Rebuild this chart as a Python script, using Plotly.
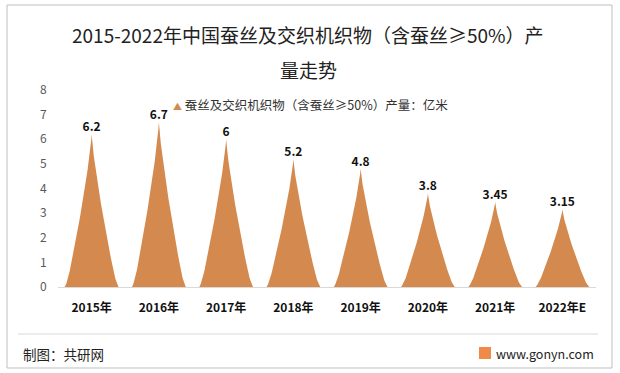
import numpy as np
import plotly.graph_objects as go

categories = ["2015年", "2016年", "2017年", "2018年", "2019年", "2020年", "2021年", "2022年E"]
values = [6.2, 6.7, 6, 5.2, 4.8, 3.8, 3.45, 3.15]
value_labels = ["6.2", "6.7", "6", "5.2", "4.8", "3.8", "3.45", "3.15"]
y_ticks = [0, 1, 2, 3, 4, 5, 6, 7, 8]
series_name = "蚕丝及交织机织物（含蚕丝≥50%）产量：亿米"
title_line1 = "2015-2022年中国蚕丝及交织机织物（含蚕丝≥50%）产"
title_line2 = "量走势"

COLOR = "#D48A4E"
FONT = "Noto Sans CJK SC"

# normalized peak profile: half-width fraction as a function of relative height
yy = np.linspace(0, 1, 80)
ww = (1 - yy) ** 1.25 * (1 - 0.07 * (1 - np.exp(-yy / 0.04)))
shape_x = np.concatenate([0.5 + 0.5 * ww, (0.5 - 0.5 * ww)[::-1]])
shape_y = np.concatenate([yy, yy[::-1]])

half_w = 0.40
xs, ys = [], []
for i, v in enumerate(values):
    xs += list(i - half_w + 2 * half_w * shape_x) + [None]
    ys += list(v * shape_y) + [None]

fig = go.Figure()
fig.add_trace(go.Scatter(
    x=xs, y=ys, mode="lines", fill="toself", fillcolor=COLOR,
    line=dict(width=0, color=COLOR), hoverinfo="skip", showlegend=False))
fig.add_trace(go.Scatter(
    x=list(range(len(values))), y=values, mode="text", text=value_labels,
    textposition="top center", textfont=dict(family=FONT, size=12, color="#111111", weight="bold"),
    showlegend=False, hoverinfo="skip", cliponaxis=False))

fig.update_layout(
    width=620, height=373,
    margin=dict(l=58, r=24, t=90, b=86),
    paper_bgcolor="white", plot_bgcolor="white",
    font=dict(family=FONT, size=12, color="#595959"),
    xaxis=dict(
        range=[-0.5, len(values) - 0.5], tickmode="array",
        tickvals=list(range(len(values))), ticktext=categories,
        tickfont=dict(family=FONT, size=12, color="#111111", weight="bold"),
        showline=True, linecolor="#D9D9D9", linewidth=1,
        showgrid=False, zeroline=False, ticks="outside", ticklen=10, tickcolor="rgba(0,0,0,0)",
        fixedrange=True, automargin=False),
    yaxis=dict(
        range=[0, 8], tickmode="array", tickvals=y_ticks,
        tickfont=dict(family=FONT, size=12, color="#595959"),
        showline=False, showgrid=False, zeroline=False,
        ticks="outside", ticklen=8, tickcolor="rgba(0,0,0,0)", fixedrange=True, automargin=False),
    showlegend=False,
)

def px_x(px):
    return (px - 58) / 538.0

def px_y(py):
    return (287 - py) / 197.0

annotations = [
    dict(text=title_line1, x=px_x(308), y=px_y(35), xref="paper", yref="paper",
         showarrow=False, font=dict(family=FONT, size=19, color="#222222"), xanchor="center", yanchor="middle"),
    dict(text=title_line2, x=px_x(308), y=px_y(70), xref="paper", yref="paper",
         showarrow=False, font=dict(family=FONT, size=19, color="#222222"), xanchor="center", yanchor="middle"),
    dict(text=f"<span style='color:{COLOR};font-size:9px'>▲</span> " + series_name,
         x=px_x(171), y=px_y(104), xref="paper", yref="paper",
         showarrow=False, font=dict(family=FONT, size=12.5, color="#333333"), xanchor="left", yanchor="middle"),
    dict(text="制图：共研网", x=px_x(21), y=px_y(354), xref="paper", yref="paper",
         showarrow=False, font=dict(family=FONT, size=13.5, color="#222222"), xanchor="left", yanchor="middle"),
    dict(text="www.gonyn.com", x=px_x(494), y=px_y(353), xref="paper", yref="paper",
         showarrow=False, font=dict(family=FONT, size=12.5, color="#222222"), xanchor="left", yanchor="middle"),
]
fig.update_layout(annotations=annotations)

shapes = [
    dict(type="rect", xref="paper", yref="paper", x0=px_x(7), x1=px_x(612), y0=px_y(368), y1=px_y(5),
         line=dict(color="#BFBFBF", width=1), fillcolor="rgba(0,0,0,0)", layer="below"),
    dict(type="line", xref="paper", yref="paper", x0=px_x(18), x1=px_x(598), y0=px_y(334), y1=px_y(334),
         line=dict(color="#D9D9D9", width=1)),
    dict(type="rect", xref="paper", yref="paper", x0=px_x(479), x1=px_x(491), y0=px_y(359), y1=px_y(347),
         line=dict(width=0), fillcolor="#F08A4B"),
]
fig.update_layout(shapes=shapes)

fig.write_html("out.html", config={"displayModeBar": False},
               post_script="document.body.style.margin='0';document.body.style.overflow='hidden';")
